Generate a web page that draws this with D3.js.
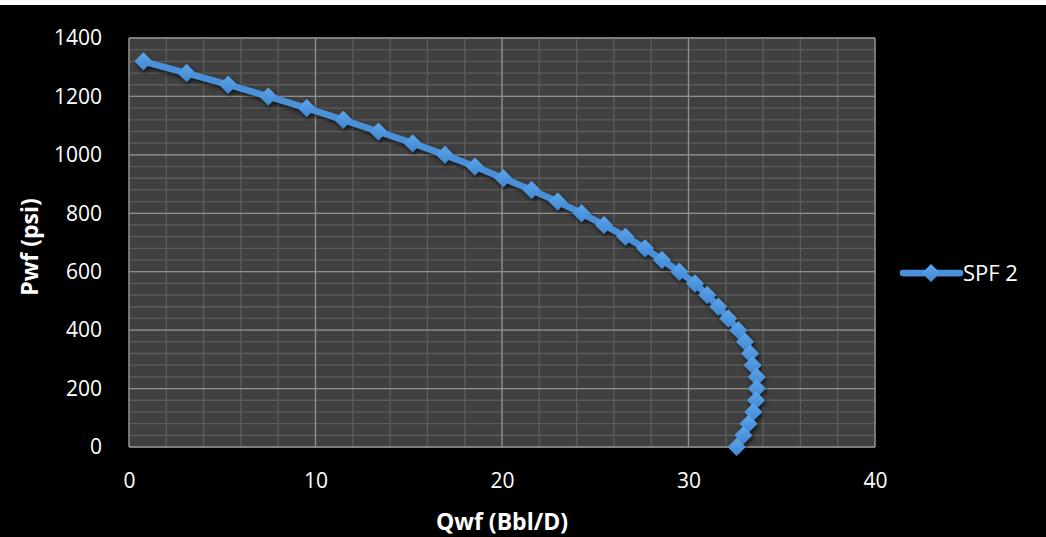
<!DOCTYPE html>
<html>
<head>
<meta charset="utf-8">
<script src="https://cdn.jsdelivr.net/npm/d3@7"></script>
<style>
  html, body { margin: 0; padding: 0; background: #ffffff; }
  svg { display: block; }
  text { font-family: "Open Sans", "Liberation Sans", sans-serif; fill: #ffffff; }
</style>
</head>
<body>
<svg id="chart" width="1046" height="537"></svg>
<script>
// Inflow performance data: flow rate (Bbl/D) at each flowing bottom-hole pressure (psi)
const pressure = [1320, 1280, 1240, 1200, 1160, 1120, 1080, 1040, 1000, 960, 920, 880, 840, 800,
                  760, 720, 680, 640, 600, 560, 520, 480, 440, 400, 360, 320, 280, 240, 200, 160,
                  120, 80, 40, 0];
const flowRate = [0.77, 3.09, 5.32, 7.47, 9.53, 11.49, 13.37, 15.21, 16.94, 18.55, 20.07, 21.59,
                  22.99, 24.27, 25.47, 26.62, 27.67, 28.58, 29.51, 30.35, 31.01, 31.60, 32.13,
                  32.67, 33.03, 33.30, 33.44, 33.66, 33.66, 33.62, 33.47, 33.21, 32.94, 32.58];
const seriesName = "SPF 2";
const xTicks = [0, 10, 20, 30, 40];
const yTicks = [0, 200, 400, 600, 800, 1000, 1200, 1400];
const xTitle = "Qwf (Bbl/D)";
const yTitle = "Pwf (psi)";

const svg = d3.select("#chart");
const W = 1046, H = 537;
const plot = { left: 129, top: 38, right: 875, bottom: 447 };

// Black chart background
svg.append("rect").attr("x", 0).attr("y", 5).attr("width", W).attr("height", H - 5)
  .attr("fill", "#000000");

const x = d3.scaleLinear().domain([0, 40]).range([plot.left, plot.right]);
const y = d3.scaleLinear().domain([0, 1400]).range([plot.bottom, plot.top]);

const defs = svg.append("defs");
const shadow = defs.append("filter").attr("id", "shadow")
  .attr("x", "-20%").attr("y", "-20%").attr("width", "140%").attr("height", "140%");
shadow.append("feDropShadow").attr("dx", 1.5).attr("dy", 2.5).attr("stdDeviation", 2)
  .attr("flood-color", "#000000").attr("flood-opacity", 0.75);
const grad = defs.append("linearGradient").attr("id", "markerFill")
  .attr("x1", 0).attr("y1", 0).attr("x2", 0).attr("y2", 1);
grad.append("stop").attr("offset", "0%").attr("stop-color", "#5ea6ea");
grad.append("stop").attr("offset", "100%").attr("stop-color", "#3f87d2");

// Plot area
svg.append("rect")
  .attr("x", plot.left).attr("y", plot.top)
  .attr("width", plot.right - plot.left).attr("height", plot.bottom - plot.top)
  .attr("fill", "#404040");

// Minor gridlines
const minorX = d3.range(0, 40.001, 2);
const minorY = d3.range(0, 1400.001, 40);
const grid = svg.append("g");
grid.selectAll("line.mx").data(minorX).join("line")
  .attr("x1", d => x(d)).attr("x2", d => x(d))
  .attr("y1", plot.top).attr("y2", plot.bottom)
  .attr("stroke", "#5c5c5c").attr("stroke-width", 1.3);
grid.selectAll("line.my").data(minorY).join("line")
  .attr("y1", d => y(d)).attr("y2", d => y(d))
  .attr("x1", plot.left).attr("x2", plot.right)
  .attr("stroke", "#5c5c5c").attr("stroke-width", 1.3);
// Major gridlines
grid.selectAll("line.Mx").data(xTicks).join("line")
  .attr("x1", d => x(d)).attr("x2", d => x(d))
  .attr("y1", plot.top).attr("y2", plot.bottom)
  .attr("stroke", "#8f8f8f").attr("stroke-width", 1.3);
grid.selectAll("line.My").data(yTicks).join("line")
  .attr("y1", d => y(d)).attr("y2", d => y(d))
  .attr("x1", plot.left).attr("x2", plot.right)
  .attr("stroke", "#8f8f8f").attr("stroke-width", 1.3);

// Axes (labels only, no tick marks)
const xAxis = svg.append("g").attr("transform", `translate(0,${plot.bottom})`)
  .call(d3.axisBottom(x).tickValues(xTicks).tickFormat(d3.format("d")).tickSize(0).tickPadding(26));
const yAxis = svg.append("g").attr("transform", `translate(${plot.left},0)`)
  .call(d3.axisLeft(y).tickValues(yTicks).tickFormat(d3.format("d")).tickSize(0).tickPadding(27));
[xAxis, yAxis].forEach(a => {
  a.select(".domain").remove();
  a.selectAll("text").attr("fill", "#ffffff").style("font-size", "21px")
    .style("font-family", "'Open Sans', sans-serif");
});

// Series line
const data = pressure.map((p, i) => ({ p, q: flowRate[i] }));
const line = d3.line().x(d => x(d.q)).y(d => y(d.p));
const series = svg.append("g").attr("filter", "url(#shadow)");
series.append("path").datum(data).attr("d", line)
  .attr("fill", "none").attr("stroke", "#4a90d9").attr("stroke-width", 6.5)
  .attr("stroke-linejoin", "round");

// Diamond markers
const r = 9;
const diamond = `M0,${-r}L${r},0L0,${r}L${-r},0Z`;
series.selectAll("path.marker").data(data).join("path")
  .attr("class", "marker")
  .attr("d", diamond)
  .attr("transform", d => `translate(${x(d.q)},${y(d.p)})`)
  .attr("fill", "url(#markerFill)");

// Axis titles
svg.append("text").attr("x", (plot.left + plot.right) / 2).attr("y", 530)
  .attr("text-anchor", "middle").style("font-size", "23px").style("font-weight", "bold")
  .text(xTitle);
svg.append("text").attr("transform", `translate(38,247) rotate(-90)`)
  .attr("text-anchor", "middle").style("font-size", "23px").style("font-weight", "bold")
  .text(yTitle);

// Legend
const lg = svg.append("g").attr("filter", "url(#shadow)");
lg.append("line").attr("x1", 903).attr("x2", 960).attr("y1", 273).attr("y2", 273)
  .attr("stroke", "#4a90d9").attr("stroke-width", 6.5).attr("stroke-linecap", "round");
lg.append("path").attr("d", diamond).attr("transform", "translate(931,273)")
  .attr("fill", "url(#markerFill)");
svg.append("text").attr("x", 963).attr("y", 281).style("font-size", "22px").text(seriesName);
</script>
</body>
</html>
